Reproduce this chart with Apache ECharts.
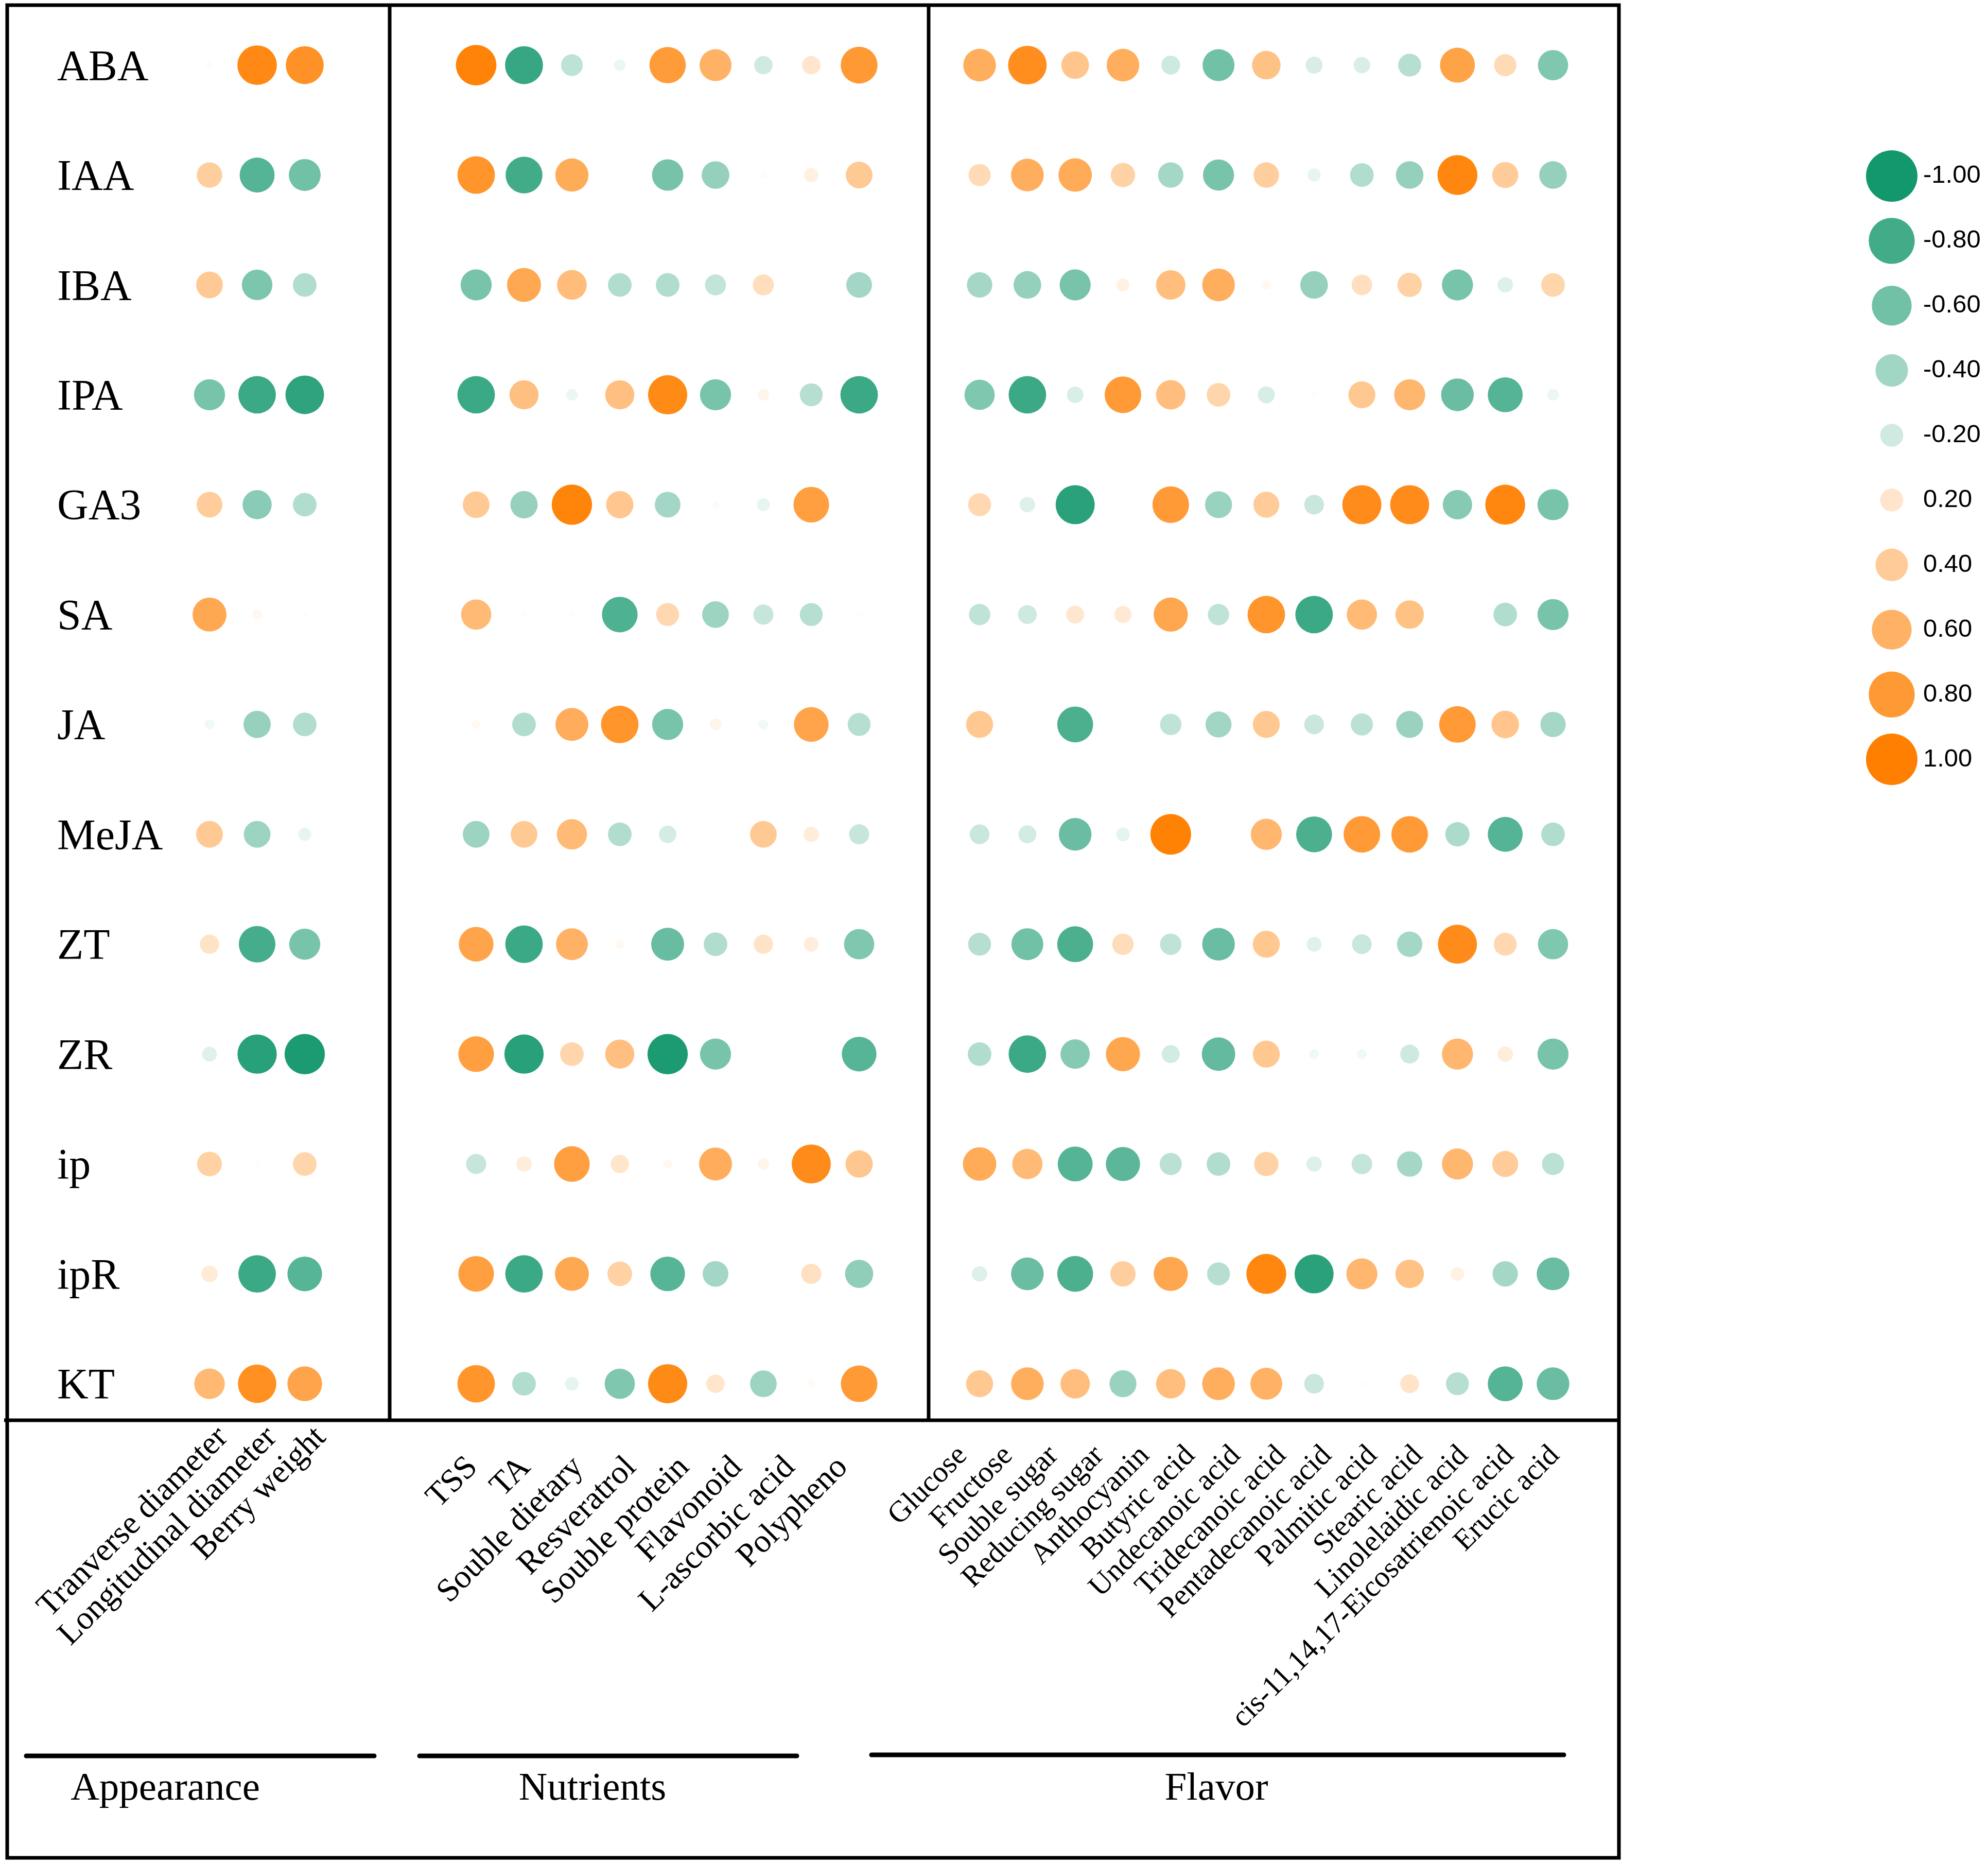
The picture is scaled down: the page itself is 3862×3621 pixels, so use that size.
<!DOCTYPE html>
<html>
<head>
<meta charset="utf-8">
<script src="https://cdn.jsdelivr.net/npm/echarts@6/dist/echarts.min.js"></script>
<style>html,body{margin:0;padding:0;background:#fff}#c{width:3862px;height:3621px}</style>
</head>
<body>
<div id="c"></div>
<script>
// ---------- data ----------
const rows = ['ABA','IAA','IBA','IPA','GA3','SA','JA','MeJA','ZT','ZR','ip','ipR','KT'];
const appearanceLabels = ['Tranverse diameter','Longitudinal diameter','Berry weight'];
const nutrientLabels = ['TSS','TA','Souble dietary','Resveratrol','Souble protein','Flavonoid','L-ascorbic acid','Polypheno'];
const flavorLabels = ['Glucose','Fructose','Souble sugar','Reducing sugar','Anthocyanin','Butyric acid','Undecanoic acid','Tridecanoic acid','Pentadecanoic acid','Palmitic acid','Stearic acid','Linolelaidic acid','cis-11,14,17-Eicosatrienoic acid','Erucic acid'];
const groupNames = ['Appearance','Nutrients','Flavor'];
const legendValues = [-1.0,-0.8,-0.6,-0.4,-0.2,0.2,0.4,0.6,0.8,1.0];

// correlation values (rows x columns)
const appearance = [
  [0.03, 0.92, 0.85],
  [0.38, -0.72, -0.60],
  [0.42, -0.55, -0.33],
  [-0.57, -0.83, -0.88],
  [0.39, -0.50, -0.33],
  [0.68, 0.06, 0.02],
  [-0.06, -0.44, -0.33],
  [0.42, -0.42, -0.10],
  [0.22, -0.79, -0.57],
  [-0.13, -0.91, -0.96],
  [0.36, 0.02, 0.33],
  [0.16, -0.83, -0.71],
  [0.55, 0.87, 0.71]
];
const nutrients = [
  [0.97, -0.85, -0.28, -0.08, 0.78, 0.60, -0.20, 0.20, 0.80],
  [0.83, -0.80, 0.65, 0.01, -0.58, -0.45, 0.03, 0.12, 0.42],
  [-0.57, 0.68, 0.52, -0.33, -0.33, -0.26, 0.26, 0.00, -0.39],
  [-0.83, 0.50, -0.08, 0.50, 0.91, -0.57, 0.08, -0.31, -0.83],
  [0.42, -0.44, 0.96, 0.44, -0.39, -0.03, -0.10, 0.75, 0.00],
  [0.54, 0.02, 0.02, -0.75, 0.31, -0.42, -0.24, -0.31, 0.02],
  [0.05, -0.33, 0.64, 0.83, -0.57, 0.08, -0.06, 0.71, -0.31],
  [-0.42, 0.42, 0.54, -0.33, -0.18, 0.01, 0.42, 0.14, -0.24],
  [0.71, -0.83, 0.60, 0.05, -0.64, -0.33, 0.22, 0.13, -0.54],
  [0.75, -0.91, 0.33, 0.50, -0.96, -0.57, 0.01, 0.01, -0.71],
  [-0.24, 0.14, 0.75, 0.20, 0.05, 0.64, 0.08, 0.90, 0.44],
  [0.75, -0.83, 0.68, 0.36, -0.71, -0.39, 0.00, 0.24, -0.47],
  [0.83, -0.33, -0.11, -0.54, 0.91, 0.20, -0.42, 0.04, 0.79]
];
const flavor = [
  [0.63, 0.88, 0.45, 0.63, -0.21, -0.60, 0.48, -0.17, -0.16, -0.31, 0.72, 0.29, -0.54],
  [0.29, 0.63, 0.66, 0.35, -0.38, -0.57, 0.38, -0.10, -0.33, -0.45, 0.94, 0.40, -0.45],
  [-0.38, -0.45, -0.57, 0.10, 0.51, 0.63, 0.05, -0.45, 0.25, 0.35, -0.57, -0.14, 0.33],
  [-0.54, -0.83, -0.16, 0.79, 0.51, 0.33, -0.17, 0.02, 0.43, 0.57, -0.63, -0.72, -0.08],
  [0.31, -0.14, -0.90, 0.01, 0.79, -0.43, 0.40, -0.23, 0.90, 0.90, -0.51, 0.94, -0.57],
  [-0.27, -0.21, 0.19, 0.17, 0.69, -0.27, 0.83, -0.83, 0.54, 0.48, 0.01, -0.33, -0.57],
  [0.43, 0.01, -0.76, 0.00, -0.27, -0.40, 0.43, -0.23, -0.29, -0.43, 0.79, 0.45, -0.38],
  [-0.23, -0.19, -0.63, -0.11, 0.98, 0.01, 0.57, -0.76, 0.79, 0.79, -0.35, -0.72, -0.33],
  [-0.31, -0.60, -0.76, 0.27, -0.27, -0.63, 0.43, -0.13, -0.23, -0.38, 0.90, 0.31, -0.54],
  [-0.33, -0.83, -0.51, 0.69, -0.19, -0.66, 0.43, -0.06, -0.06, -0.21, 0.57, 0.14, -0.57],
  [0.66, 0.54, -0.72, -0.69, -0.29, -0.33, 0.35, -0.14, -0.25, -0.38, 0.57, 0.40, -0.29],
  [-0.14, -0.63, -0.76, 0.38, 0.69, -0.31, 0.94, -0.90, 0.57, 0.48, 0.11, -0.38, -0.63],
  [0.43, 0.63, 0.51, -0.43, 0.51, 0.63, 0.60, -0.23, 0.02, 0.21, -0.31, -0.72, -0.63]
];

// ---------- chart ----------
const SERIF = "'Liberation Serif','Times New Roman',serif";
const SANS = "'Liberation Sans',Arial,sans-serif";
const chart = echarts.init(document.getElementById('c'));

function cells(m) {
  const out = [];
  m.forEach((r, ri) => r.forEach((v, ci) => out.push([ci, ri, v])));
  return out;
}
const mainSize = d => 80 * Math.sqrt(Math.abs(d[2]));
const legendSize = d => 100 * Math.sqrt(Math.abs(d[2]));

const ROW_TOP = 19.8, ROW_H = 2775;
const grids = [
  {left: 360.75, top: ROW_TOP, width: 277.5, height: ROW_H},
  {left: 878.5, top: ROW_TOP, width: 837, height: ROW_H},
  {left: 1856.6, top: ROW_TOP, width: 1206.8, height: ROW_H},
  {left: 386, top: 2700, width: 285, height: 59},
  {left: 867, top: 2700, width: 821.7, height: 59},
  {left: 1826, top: 2700, width: 1239, height: 59},
  {left: 3650, top: 279, width: 50, height: 1259},
  {left: 360.75, top: ROW_TOP + 7, width: 277.5, height: ROW_H}
].map(g => Object.assign({containLabel: false, outerBoundsMode: 'none'}, g));

const hiddenCat = (gi, n) => ({gridIndex: gi, type: 'category', data: Array.from({length: n}, (_, i) => i), show: false});
const labelAxis = (gi, labels, margin, size) => ({
  gridIndex: gi, type: 'category', data: labels, position: 'bottom',
  axisLine: {show: false}, axisTick: {show: false}, splitLine: {show: false},
  axisLabel: {rotate: 45, interval: 0, margin: margin, fontSize: size, fontFamily: SERIF, color: '#000'}
});

const xAxis = [
  hiddenCat(0, appearance[0].length),
  hiddenCat(1, nutrients[0].length),
  hiddenCat(2, flavor[0].length),
  labelAxis(3, appearanceLabels, 24, 64),
  labelAxis(4, nutrientLabels, 82, 64),
  labelAxis(5, flavorLabels, 60, 58),
  {gridIndex: 6, type: 'category', data: [''], show: false},
  hiddenCat(7, 1)
];
const rowAxis = (gi, show) => ({
  gridIndex: gi, type: 'category', data: rows, inverse: true,
  axisLine: {show: false}, axisTick: {show: false}, splitLine: {show: false},
  axisLabel: show ? {show: true, align: 'left', margin: 360.75 - 111, fontSize: 84, fontFamily: SERIF, color: '#000'} : {show: false}
});
const yAxis = [
  rowAxis(0, false), rowAxis(1, false), rowAxis(2, false),
  {gridIndex: 3, type: 'value', show: false},
  {gridIndex: 4, type: 'value', show: false},
  {gridIndex: 5, type: 'value', show: false},
  {gridIndex: 6, type: 'category', data: legendValues.map(v => v.toFixed(2)), inverse: true, position: 'right',
   axisLine: {show: false}, axisTick: {show: false}, splitLine: {show: false},
   axisLabel: {margin: 36, fontSize: 49, fontFamily: SANS, color: '#000', align: 'left'}},
  rowAxis(7, true)
];

const series = [
  {type: 'scatter', xAxisIndex: 0, yAxisIndex: 0, data: cells(appearance), symbolSize: mainSize},
  {type: 'scatter', xAxisIndex: 1, yAxisIndex: 1, data: cells(nutrients), symbolSize: mainSize},
  {type: 'scatter', xAxisIndex: 2, yAxisIndex: 2, data: cells(flavor), symbolSize: mainSize},
  {type: 'scatter', xAxisIndex: 6, yAxisIndex: 6, data: legendValues.map((v, i) => [0, i, v]), symbolSize: legendSize}
].map(s => Object.assign({silent: true, itemStyle: {opacity: 1}, emphasis: {disabled: true}}, s));

const LW = 7;
const line = (x1, y1, x2, y2, w, cap) => ({type: 'line', shape: {x1, y1, x2, y2}, style: {stroke: '#000', lineWidth: w, lineCap: cap || 'butt'}, silent: true});
const groupText = (txt, x) => ({type: 'text', x: x, y: 3476, silent: true,
  style: {text: txt, font: '77px ' + SERIF, fill: '#000', textAlign: 'center', textVerticalAlign: 'middle', align: 'center', verticalAlign: 'middle'}});

const graphic = [
  {type: 'rect', shape: {x: 14, y: 10, width: 3131, height: 3599}, style: {fill: 'none', stroke: '#000', lineWidth: LW}, silent: true},
  line(757, 10, 757, 2759, LW),
  line(1804, 10, 1804, 2759, LW),
  line(8, 2759, 3145, 2759, LW),
  line(51, 3411, 727, 3411, 9, 'round'),
  line(815, 3411, 1548, 3411, 9, 'round'),
  line(1693, 3409, 3038, 3409, 9, 'round'),
  groupText(groupNames[0], 321),
  groupText(groupNames[1], 1151),
  groupText(groupNames[2], 2363)
];

chart.setOption({
  backgroundColor: '#fff',
  animation: false,
  grid: grids,
  xAxis: xAxis,
  yAxis: yAxis,
  visualMap: {type: 'continuous', show: false, min: -1, max: 1, dimension: 2, seriesIndex: [0, 1, 2, 3],
    inRange: {color: ['#13976C', '#FFFFFF', '#FF7F00']}},
  series: series,
  graphic: graphic
});
</script>
</body>
</html>
